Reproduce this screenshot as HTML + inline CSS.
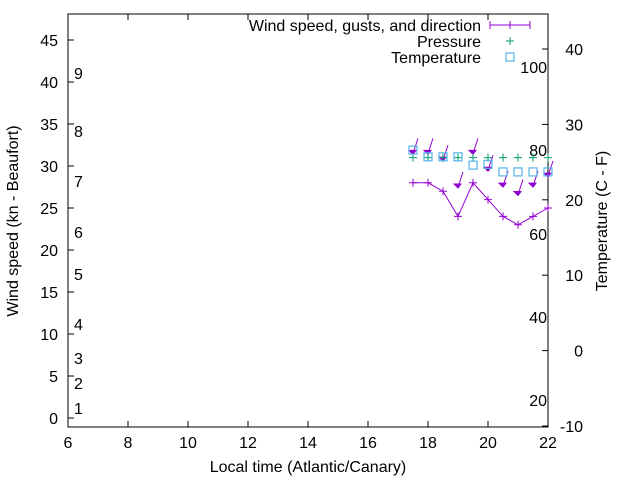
<!DOCTYPE html>
<html><head><meta charset="utf-8"><style>
body{margin:0;background:#fff}
svg{display:block;font-family:"Liberation Sans",sans-serif}
</style></head><body>
<svg id="chart" width="640" height="480" xmlns="http://www.w3.org/2000/svg">
<rect width="640" height="480" fill="#fff"/>
<g id="axes"></g>
<g id="marks"></g>
<g id="legend"></g>
</svg>
<script>
const hours=[17.5,18,18.5,19,19.5,20,20.5,21,21.5,22];
const windSpeed=[28,28,27,24,28,26,24,23,24,25];
const gusts=[31.5,31.5,30.7,27.5,31.5,29.5,27.6,26.6,27.6,28.8];
const pressure=[31,31,31,31,31,31,31,31,31,31];
const temperature=[26.6,25.7,25.7,25.7,24.6,24.7,23.7,23.7,23.7,23.7];
const xTicks=[6,8,10,12,14,16,18,20,22];
const yTicks=[0,5,10,15,20,25,30,35,40,45];
const y2Ticks=[-10,0,10,20,30,40];
const beaufort=[[1,408],[2,383],[3,358],[4,324],[5,274],[6,232],[7,181],[8,131],[9,73]];
const fahr=[[100,67],[80,150],[60,234],[40,317],[20,400]];

const L=68,R=548,T=14,B=427;
const FS=16;
const X=v=>L+(v-6)*30;
const Y=v=>418-v*8.4;
const Y2=v=>426-(v+10)*7.54;
const NS='http://www.w3.org/2000/svg';
function mk(p,tag,attrs,txt){const e=document.createElementNS(NS,tag);for(const k in attrs)e.setAttribute(k,attrs[k]);if(txt!==undefined)e.textContent=txt;p.appendChild(e);return e;}
const ax=document.getElementById('axes'),mg=document.getElementById('marks'),lg=document.getElementById('legend');

let fr=mk(ax,'rect',{x:L,y:T,width:R-L,height:B-T,fill:'none',stroke:'#000','stroke-width':1});


xTicks.forEach(v=>{
  mk(ax,'line',{x1:X(v),x2:X(v),y1:B,y2:B-6,stroke:'#000'});
  mk(ax,'line',{x1:X(v),x2:X(v),y1:T,y2:T+6,stroke:'#000'});
  let t=mk(ax,'text',{x:X(v),y:B+21,'text-anchor':'middle','font-size':FS},v);
  
  
});
yTicks.forEach(v=>{
  mk(ax,'line',{x1:L,x2:L+6,y1:Y(v),y2:Y(v),stroke:'#000'});
  let t=mk(ax,'text',{x:L-10,y:Y(v)+6,'text-anchor':'end','font-size':FS},v);
  
  
});
y2Ticks.forEach(v=>{
  mk(ax,'line',{x1:R,x2:R-6,y1:Y2(v),y2:Y2(v),stroke:'#000'});
  let t=mk(ax,'text',{x:R+35,y:Y2(v)+6,'text-anchor':'end','font-size':FS},v);
  
  
});
beaufort.forEach(([n,y])=>{
  let t=mk(ax,'text',{x:74,y:y+6,'font-size':FS},n);
  
  
});
fahr.forEach(([n,y])=>{
  let t=mk(ax,'text',{x:547,y:y+6,'text-anchor':'end','font-size':FS},n);
  
  
});
let xt=mk(ax,'text',{x:308,y:472,'text-anchor':'middle','font-size':FS},'Local time (Atlantic/Canary)');


let yt=mk(ax,'text',{x:0,y:0,'text-anchor':'middle','font-size':FS,transform:'translate(18,221) rotate(-90)'},'Wind speed (kn - Beaufort)');


let y2t=mk(ax,'text',{x:0,y:0,'text-anchor':'middle','font-size':FS,transform:'translate(607,221) rotate(-90)'},'Temperature (C - F)');



const purple='#9400d3',green='#009e73',blue='#56b4e9';
function plus(p,x,y,c,s){mk(p,'path',{d:`M${x-s} ${y}H${x+s}M${x} ${y-s}V${y+s}`,stroke:c,'stroke-width':1,fill:'none'});}
let pts=hours.map((h,i)=>X(h)+','+Y(windSpeed[i])).join(' ');
let wl=mk(mg,'polyline',{points:pts,fill:'none',stroke:purple,'stroke-width':1});


hours.forEach((h,i)=>{
  plus(mg,X(h),Y(windSpeed[i]),purple,4);
  const x=X(h),y=Y(gusts[i]);
  let a=mk(mg,'path',{d:`M${x+5} ${y-15}L${x} ${y}`,stroke:purple,'stroke-width':1,fill:'none'});
  
  
  mk(mg,'path',{d:`M${x-4} ${y-3}L${x} ${y+1}L${x+3} ${y-3}Z`,fill:purple,stroke:purple,'stroke-width':1});
  plus(mg,x,Y(pressure[i]),green,4);
  let s=mk(mg,'rect',{x:x-4,y:Y2(temperature[i])-4,width:8,height:8,fill:'none',stroke:blue,'stroke-width':1.2});
  
  
});

[['Wind speed, gusts, and direction',25],['Pressure',41],['Temperature',57]].forEach(([t,y])=>{
  let e=mk(lg,'text',{x:481,y:y+6,'text-anchor':'end','font-size':FS},t);
  
  
});
mk(lg,'path',{d:'M490 25H530M490 21V29M530 21V29',stroke:purple,fill:'none'});
plus(lg,510,25,purple,4);
plus(lg,510,41,green,4);
mk(lg,'rect',{x:506,y:53,width:8,height:8,fill:'none',stroke:blue,'stroke-width':1.2});
</script>
</body></html>
